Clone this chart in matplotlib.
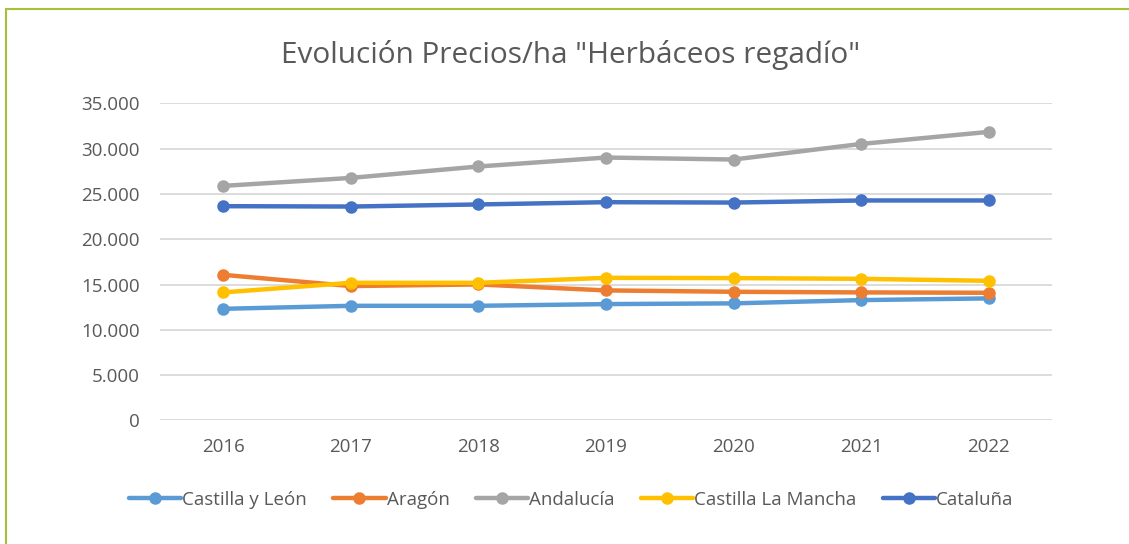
import matplotlib
matplotlib.use("Agg")
import matplotlib.pyplot as plt
from matplotlib.patches import Rectangle
from matplotlib.ticker import FuncFormatter

years = ["2016", "2017", "2018", "2019", "2020", "2021", "2022"]
castilla_leon = [12320, 12650, 12650, 12840, 12920, 13280, 13470]
aragon = [16070, 14830, 15010, 14350, 14200, 14130, 14090]
andalucia = [25890, 26770, 28030, 29020, 28800, 30520, 31850]
castilla_mancha = [14130, 15190, 15190, 15740, 15710, 15630, 15410]
cataluna = [23650, 23610, 23840, 24090, 24050, 24280, 24280]

series_names = ["Castilla y León", "Aragón", "Andalucía", "Castilla La Mancha", "Cataluña"]
series_values = [castilla_leon, aragon, andalucia, castilla_mancha, cataluna]
colors = ["#5B9BD5", "#ED7D31", "#A5A5A5", "#FFC000", "#4472C4"]
title = 'Evolución Precios/ha "Herbáceos regadío"'
yticks = [0, 5000, 10000, 15000, 20000, 25000, 30000, 35000]

FONT = ["Open Sans", "DejaVu Sans"]
TXT = "#595959"

fig = plt.figure(figsize=(11.29, 5.44), dpi=100)
ax = fig.add_axes([0.1413, 0.2272, 0.7909, 0.5828])

x = list(range(len(years)))
for name, vals, c in zip(series_names, series_values, colors):
    ax.plot(x, vals, color=c, lw=3.2, marker="o", markersize=8, label=name,
            solid_capstyle="round")

ax.set_xlim(-0.5, len(years) - 0.5)
ax.set_ylim(0, 35000)
ax.set_yticks(yticks)
ax.yaxis.set_major_formatter(FuncFormatter(lambda v, p: "0" if v == 0 else f"{int(v):,}".replace(",", ".")))
ax.set_xticks(x)
ax.set_xticklabels(years)
ax.grid(axis="y", color="#D9D9D9", lw=1.3)
ax.set_axisbelow(True)
for s in ax.spines.values():
    s.set_visible(False)
ax.tick_params(length=0, labelsize=13.5, labelcolor=TXT)
ax.tick_params(axis="y", pad=14)
ax.tick_params(axis="x", pad=13)
for lab in ax.get_xticklabels() + ax.get_yticklabels():
    lab.set_family(FONT)

fig.text(0.505, 0.899, title, ha="center", va="center", fontsize=21.4, color=TXT, family=FONT)

leg = fig.legend(loc="center", bbox_to_anchor=(0.506, 0.081), ncol=5, frameon=False,
                 handlelength=2.8, handletextpad=0.05, columnspacing=1.4,
                 prop={"family": FONT, "size": 13.5})
for t in leg.get_texts():
    t.set_color(TXT)

fig.patches.append(Rectangle((6 / 1129, -0.1), 1.2, (544 - 9) / 544 + 0.1, transform=fig.transFigure,
                             fill=False, edgecolor="#A5C13A", lw=1.5))

fig.savefig("out.png", dpi=100)
